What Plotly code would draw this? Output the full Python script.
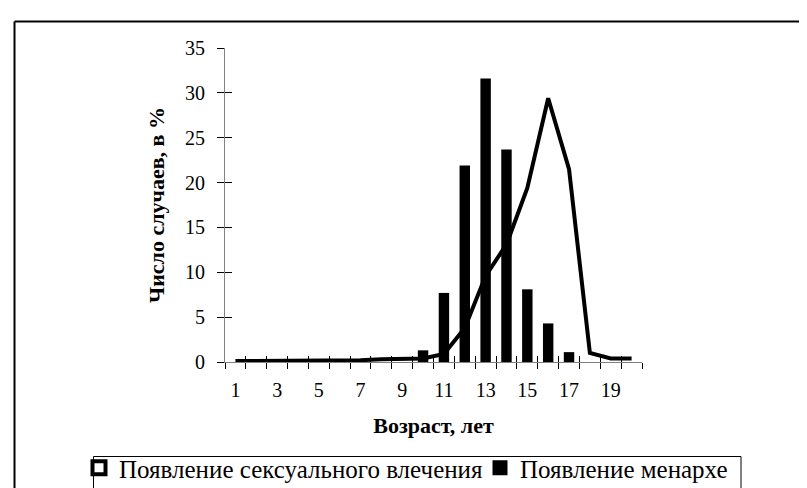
import plotly.graph_objects as go

ages = list(range(1, 21))
attraction = [0.1, 0.1, 0.1, 0.1, 0.1, 0.1, 0.2, 0.3, 0.4, 0.4,
              0.9, 3.8, 9.6, 13.1, 19.4, 29.4, 21.5, 1.0, 0.4, 0.4]
menarche = [0, 0, 0, 0, 0, 0, 0, 0, 0, 1.3,
            7.7, 21.9, 31.6, 23.7, 8.1, 4.3, 1.1, 0, 0, 0]
tick_vals = [1, 3, 5, 7, 9, 11, 13, 15, 17, 19]
tick_text = [str(v) for v in tick_vals]
y_ticks = [0, 5, 10, 15, 20, 25, 30, 35]
boundaries = [a - 0.5 for a in ages] + [20.5]
series_names = ["Появление сексуального влечения", "Появление менархе"]
x_title = "Возраст, лет"
y_title = "Число случаев, в %"

FONT = "Liberation Serif, Times New Roman, serif"

fig = go.Figure()
fig.add_trace(go.Bar(x=ages, y=menarche, width=0.5, marker=dict(color="black", line=dict(width=0)),
                     showlegend=False, name=series_names[1]))
fig.add_trace(go.Scatter(x=ages, y=attraction, mode="lines", line=dict(color="black", width=4),
                         showlegend=False, name=series_names[0]))
# legend entries
fig.add_trace(go.Scatter(x=[None], y=[None], mode="markers", name=series_names[0], legend="legend",
                         marker=dict(symbol="square", size=13, color="white", line=dict(color="black", width=4)),
                         xaxis="x2", yaxis="y2"))
fig.add_trace(go.Scatter(x=[None], y=[None], mode="markers", name=series_names[1], legend="legend2",
                         marker=dict(symbol="square", size=15, color="black", line=dict(width=0)),
                         xaxis="x2", yaxis="y2"))

L, R, T, B = 217, 807 - 634, 40, 488 - 354
W, H = 807, 488
pw = W - L - R
ph = H - T - B

def px(x):
    return (x - L) / pw

def py(y):
    return (H - B - y) / ph

legend_common = dict(orientation="h", xanchor="left", yanchor="top", y=py(437),
                     borderwidth=0, bgcolor="rgba(0,0,0,0)", font=dict(size=25),
                     itemsizing="trace", itemwidth=30)

fig.update_layout(
    width=W, height=H,
    margin=dict(l=L, r=R, t=T, b=B, autoexpand=False),
    paper_bgcolor="white", plot_bgcolor="white",
    font=dict(family=FONT, size=20, color="black"),
    bargap=0.5,
    xaxis=dict(range=[0.5, 20.5], tickmode="array", tickvals=tick_vals, ticktext=tick_text,
               ticks="", showline=True, linecolor="#808080", linewidth=1, showgrid=False, zeroline=False,
               ticklabelstandoff=10,
               minor=dict(tickmode="array", tickvals=boundaries, ticks="outside", ticklen=6,
                          tickcolor="black", tickwidth=1, showgrid=False),
               title=dict(text="<b>" + x_title + "</b>", font=dict(size=22), standoff=17)),
    xaxis2=dict(range=[0.5, 20.5], overlaying="x", anchor="y", side="bottom", tickmode="array",
                tickvals=boundaries, ticks="inside", ticklen=6, tickcolor="black",
                showticklabels=False, showline=False, showgrid=False, zeroline=False),
    yaxis=dict(range=[0, 35], tickmode="array", tickvals=y_ticks,
               ticks="outside", ticklen=7, tickcolor="black", showline=True, linecolor="#808080",
               linewidth=1, showgrid=False, zeroline=False, ticklabelstandoff=8,
               title=dict(text="<b>" + y_title + "</b>", font=dict(size=22), standoff=14)),
    yaxis2=dict(range=[0, 35], overlaying="y", anchor="x", side="left", tickmode="array",
                tickvals=y_ticks, ticks="inside", ticklen=7, tickcolor="black",
                showticklabels=False, showline=False, showgrid=False, zeroline=False),
    legend=dict(x=px(71), **legend_common),
    legend2=dict(x=px(472), **legend_common),
    shapes=[
        dict(type="line", xref="paper", yref="paper", x0=px(6.5), x1=px(810), y0=py(13.5), y1=py(13.5),
             line=dict(color="black", width=2)),
        dict(type="line", xref="paper", yref="paper", x0=px(6.5), x1=px(6.5), y0=py(13.5), y1=py(495),
             line=dict(color="black", width=2)),
        dict(type="rect", xref="paper", yref="paper", x0=px(85.5), x1=px(733), y0=py(448.5), y1=py(500),
             line=dict(color="black", width=1), fillcolor="rgba(0,0,0,0)"),
    ],
)

fig.write_html("out.html")
